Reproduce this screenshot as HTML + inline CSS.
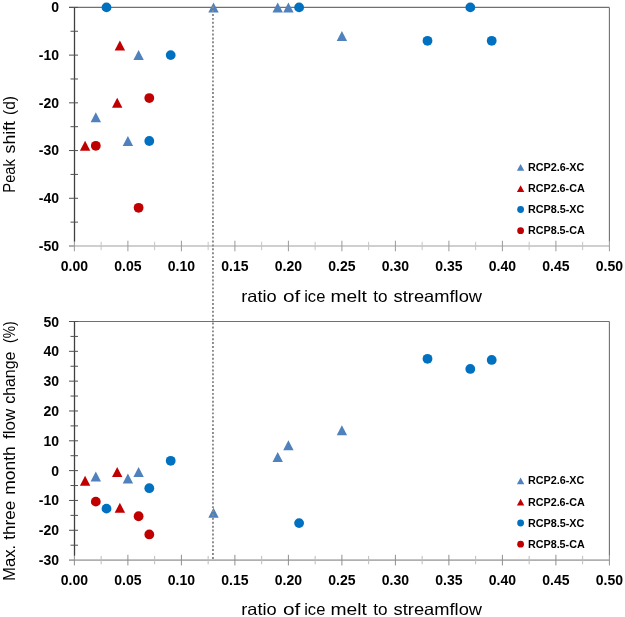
<!DOCTYPE html>
<html><head><meta charset="utf-8"><style>
html,body{margin:0;padding:0;background:#fff;width:625px;height:617px;overflow:hidden}
svg{display:block;will-change:transform}
.tk{font-family:"Liberation Sans",sans-serif;font-weight:bold;font-size:14px;fill:#000}
.tt{font-family:"Liberation Sans",sans-serif;font-size:16.5px;fill:#000}
.lg{font-family:"Liberation Sans",sans-serif;font-weight:bold;font-size:11.8px;fill:#000}
</style></head><body>
<svg width="625" height="617" viewBox="0 0 625 617">
<line x1="69" y1="7.4" x2="609.4" y2="7.4" stroke="#707070" stroke-width="1.1"/>
<line x1="609.4" y1="7.4" x2="609.4" y2="241.5" stroke="#707070" stroke-width="1.1"/>
<line x1="74.5" y1="246" x2="609.4" y2="246" stroke="#cfcfcf" stroke-width="1.8"/>
<line x1="69" y1="246" x2="74.5" y2="246" stroke="#909090" stroke-width="1.4"/>
<line x1="74.40" y1="240.7" x2="74.40" y2="251.3" stroke="#9a9a9a" stroke-width="1"/>
<line x1="101.15" y1="241.8" x2="101.15" y2="250.2" stroke="#c4c4c4" stroke-width="1"/>
<line x1="127.90" y1="240.7" x2="127.90" y2="251.3" stroke="#9a9a9a" stroke-width="1"/>
<line x1="154.65" y1="241.8" x2="154.65" y2="250.2" stroke="#c4c4c4" stroke-width="1"/>
<line x1="181.40" y1="240.7" x2="181.40" y2="251.3" stroke="#9a9a9a" stroke-width="1"/>
<line x1="208.15" y1="241.8" x2="208.15" y2="250.2" stroke="#c4c4c4" stroke-width="1"/>
<line x1="234.90" y1="240.7" x2="234.90" y2="251.3" stroke="#9a9a9a" stroke-width="1"/>
<line x1="261.65" y1="241.8" x2="261.65" y2="250.2" stroke="#c4c4c4" stroke-width="1"/>
<line x1="288.40" y1="240.7" x2="288.40" y2="251.3" stroke="#9a9a9a" stroke-width="1"/>
<line x1="315.15" y1="241.8" x2="315.15" y2="250.2" stroke="#c4c4c4" stroke-width="1"/>
<line x1="341.90" y1="240.7" x2="341.90" y2="251.3" stroke="#9a9a9a" stroke-width="1"/>
<line x1="368.65" y1="241.8" x2="368.65" y2="250.2" stroke="#c4c4c4" stroke-width="1"/>
<line x1="395.40" y1="240.7" x2="395.40" y2="251.3" stroke="#9a9a9a" stroke-width="1"/>
<line x1="422.15" y1="241.8" x2="422.15" y2="250.2" stroke="#c4c4c4" stroke-width="1"/>
<line x1="448.90" y1="240.7" x2="448.90" y2="251.3" stroke="#9a9a9a" stroke-width="1"/>
<line x1="475.65" y1="241.8" x2="475.65" y2="250.2" stroke="#c4c4c4" stroke-width="1"/>
<line x1="502.40" y1="240.7" x2="502.40" y2="251.3" stroke="#9a9a9a" stroke-width="1"/>
<line x1="529.15" y1="241.8" x2="529.15" y2="250.2" stroke="#c4c4c4" stroke-width="1"/>
<line x1="555.90" y1="240.7" x2="555.90" y2="251.3" stroke="#9a9a9a" stroke-width="1"/>
<line x1="582.65" y1="241.8" x2="582.65" y2="250.2" stroke="#c4c4c4" stroke-width="1"/>
<line x1="609.40" y1="240.7" x2="609.40" y2="251.3" stroke="#9a9a9a" stroke-width="1"/>
<line x1="74.5" y1="7.4" x2="74.5" y2="241.5" stroke="#404040" stroke-width="1.3"/>
<line x1="69" y1="7.40" x2="78" y2="7.40" stroke="#505050" stroke-width="1"/>
<line x1="69" y1="55.12" x2="78" y2="55.12" stroke="#505050" stroke-width="1"/>
<line x1="69" y1="102.84" x2="78" y2="102.84" stroke="#505050" stroke-width="1"/>
<line x1="69" y1="150.56" x2="78" y2="150.56" stroke="#505050" stroke-width="1"/>
<line x1="69" y1="198.28" x2="78" y2="198.28" stroke="#505050" stroke-width="1"/>
<line x1="70.5" y1="31.26" x2="78" y2="31.26" stroke="#505050" stroke-width="1"/>
<line x1="70.5" y1="78.98" x2="78" y2="78.98" stroke="#505050" stroke-width="1"/>
<line x1="70.5" y1="126.70" x2="78" y2="126.70" stroke="#505050" stroke-width="1"/>
<line x1="70.5" y1="174.42" x2="78" y2="174.42" stroke="#505050" stroke-width="1"/>
<line x1="70.5" y1="222.14" x2="78" y2="222.14" stroke="#505050" stroke-width="1"/>
<text x="59" y="12.40" text-anchor="end" class="tk">0</text>
<text x="59" y="60.12" text-anchor="end" class="tk">-10</text>
<text x="59" y="107.84" text-anchor="end" class="tk">-20</text>
<text x="59" y="154.96" text-anchor="end" class="tk">-30</text>
<text x="59" y="203.28" text-anchor="end" class="tk">-40</text>
<text x="59" y="251.00" text-anchor="end" class="tk">-50</text>
<text x="74.40" y="271.10" text-anchor="middle" class="tk">0.00</text>
<text x="127.90" y="271.10" text-anchor="middle" class="tk">0.05</text>
<text x="181.40" y="271.10" text-anchor="middle" class="tk">0.10</text>
<text x="234.90" y="271.10" text-anchor="middle" class="tk">0.15</text>
<text x="288.40" y="271.10" text-anchor="middle" class="tk">0.20</text>
<text x="341.90" y="271.10" text-anchor="middle" class="tk">0.25</text>
<text x="395.40" y="271.10" text-anchor="middle" class="tk">0.30</text>
<text x="448.90" y="271.10" text-anchor="middle" class="tk">0.35</text>
<text x="502.40" y="271.10" text-anchor="middle" class="tk">0.40</text>
<text x="555.90" y="271.10" text-anchor="middle" class="tk">0.45</text>
<text x="609.40" y="271.10" text-anchor="middle" class="tk">0.50</text>
<text x="241.29" y="301.80" class="tt" textLength="35.48" lengthAdjust="spacingAndGlyphs">ratio</text>
<text x="282.93" y="301.80" class="tt" textLength="17.34" lengthAdjust="spacingAndGlyphs">of</text>
<text x="304.19" y="301.80" class="tt" textLength="21.14" lengthAdjust="spacingAndGlyphs">ice</text>
<text x="330.52" y="301.80" class="tt" textLength="36.42" lengthAdjust="spacingAndGlyphs">melt</text>
<text x="373.34" y="301.80" class="tt" textLength="14.28" lengthAdjust="spacingAndGlyphs">to</text>
<text x="393.59" y="301.80" class="tt" textLength="88.46" lengthAdjust="spacingAndGlyphs">streamflow</text>
<text transform="translate(15.00 192.71) rotate(-90)" class="tt" textLength="33.69" lengthAdjust="spacingAndGlyphs">Peak</text>
<text transform="translate(15.00 153.39) rotate(-90)" class="tt" textLength="32.32" lengthAdjust="spacingAndGlyphs">shift</text>
<text transform="translate(15.00 114.95) rotate(-90)" class="tt" textLength="18.81" lengthAdjust="spacingAndGlyphs">(d)</text>
<path d="M520.60 163.95L524.30 170.85L516.90 170.85Z" fill="#4F81BD"/>
<text x="527.88" y="170.80" class="lg" textLength="56.52" lengthAdjust="spacingAndGlyphs">RCP2.6-XC</text>
<path d="M520.60 185.15L524.30 192.05L516.90 192.05Z" fill="#C00000"/>
<text x="527.88" y="192.00" class="lg" textLength="56.91" lengthAdjust="spacingAndGlyphs">RCP2.6-CA</text>
<circle cx="520.60" cy="209.50" r="3.4" fill="#0070C0"/>
<text x="527.88" y="213.20" class="lg" textLength="56.52" lengthAdjust="spacingAndGlyphs">RCP8.5-XC</text>
<circle cx="520.60" cy="230.70" r="3.4" fill="#C00000"/>
<text x="527.88" y="234.40" class="lg" textLength="56.91" lengthAdjust="spacingAndGlyphs">RCP8.5-CA</text>
<line x1="69" y1="321.5" x2="609.4" y2="321.5" stroke="#707070" stroke-width="1.1"/>
<line x1="609.4" y1="321.5" x2="609.4" y2="555.6" stroke="#707070" stroke-width="1.1"/>
<line x1="74.5" y1="560.1" x2="609.4" y2="560.1" stroke="#b0b0b0" stroke-width="1.8"/>
<line x1="69" y1="560.1" x2="74.5" y2="560.1" stroke="#909090" stroke-width="1.4"/>
<line x1="74.40" y1="554.8" x2="74.40" y2="565.4" stroke="#8e8e8e" stroke-width="1"/>
<line x1="101.15" y1="555.9" x2="101.15" y2="564.3" stroke="#bdbdbd" stroke-width="1"/>
<line x1="127.90" y1="554.8" x2="127.90" y2="565.4" stroke="#8e8e8e" stroke-width="1"/>
<line x1="154.65" y1="555.9" x2="154.65" y2="564.3" stroke="#bdbdbd" stroke-width="1"/>
<line x1="181.40" y1="554.8" x2="181.40" y2="565.4" stroke="#8e8e8e" stroke-width="1"/>
<line x1="208.15" y1="555.9" x2="208.15" y2="564.3" stroke="#bdbdbd" stroke-width="1"/>
<line x1="234.90" y1="554.8" x2="234.90" y2="565.4" stroke="#8e8e8e" stroke-width="1"/>
<line x1="261.65" y1="555.9" x2="261.65" y2="564.3" stroke="#bdbdbd" stroke-width="1"/>
<line x1="288.40" y1="554.8" x2="288.40" y2="565.4" stroke="#8e8e8e" stroke-width="1"/>
<line x1="315.15" y1="555.9" x2="315.15" y2="564.3" stroke="#bdbdbd" stroke-width="1"/>
<line x1="341.90" y1="554.8" x2="341.90" y2="565.4" stroke="#8e8e8e" stroke-width="1"/>
<line x1="368.65" y1="555.9" x2="368.65" y2="564.3" stroke="#bdbdbd" stroke-width="1"/>
<line x1="395.40" y1="554.8" x2="395.40" y2="565.4" stroke="#8e8e8e" stroke-width="1"/>
<line x1="422.15" y1="555.9" x2="422.15" y2="564.3" stroke="#bdbdbd" stroke-width="1"/>
<line x1="448.90" y1="554.8" x2="448.90" y2="565.4" stroke="#8e8e8e" stroke-width="1"/>
<line x1="475.65" y1="555.9" x2="475.65" y2="564.3" stroke="#bdbdbd" stroke-width="1"/>
<line x1="502.40" y1="554.8" x2="502.40" y2="565.4" stroke="#8e8e8e" stroke-width="1"/>
<line x1="529.15" y1="555.9" x2="529.15" y2="564.3" stroke="#bdbdbd" stroke-width="1"/>
<line x1="555.90" y1="554.8" x2="555.90" y2="565.4" stroke="#8e8e8e" stroke-width="1"/>
<line x1="582.65" y1="555.9" x2="582.65" y2="564.3" stroke="#bdbdbd" stroke-width="1"/>
<line x1="609.40" y1="554.8" x2="609.40" y2="565.4" stroke="#8e8e8e" stroke-width="1"/>
<line x1="74.5" y1="321.5" x2="74.5" y2="555.6" stroke="#404040" stroke-width="1.3"/>
<line x1="69" y1="321.50" x2="78" y2="321.50" stroke="#505050" stroke-width="1"/>
<line x1="69" y1="351.32" x2="78" y2="351.32" stroke="#505050" stroke-width="1"/>
<line x1="69" y1="381.15" x2="78" y2="381.15" stroke="#505050" stroke-width="1"/>
<line x1="69" y1="410.98" x2="78" y2="410.98" stroke="#505050" stroke-width="1"/>
<line x1="69" y1="440.80" x2="78" y2="440.80" stroke="#505050" stroke-width="1"/>
<line x1="69" y1="470.62" x2="78" y2="470.62" stroke="#505050" stroke-width="1"/>
<line x1="69" y1="500.45" x2="78" y2="500.45" stroke="#505050" stroke-width="1"/>
<line x1="69" y1="530.27" x2="78" y2="530.27" stroke="#505050" stroke-width="1"/>
<line x1="70.5" y1="336.41" x2="78" y2="336.41" stroke="#505050" stroke-width="1"/>
<line x1="70.5" y1="366.24" x2="78" y2="366.24" stroke="#505050" stroke-width="1"/>
<line x1="70.5" y1="396.06" x2="78" y2="396.06" stroke="#505050" stroke-width="1"/>
<line x1="70.5" y1="425.89" x2="78" y2="425.89" stroke="#505050" stroke-width="1"/>
<line x1="70.5" y1="455.71" x2="78" y2="455.71" stroke="#505050" stroke-width="1"/>
<line x1="70.5" y1="485.54" x2="78" y2="485.54" stroke="#505050" stroke-width="1"/>
<line x1="70.5" y1="515.36" x2="78" y2="515.36" stroke="#505050" stroke-width="1"/>
<line x1="70.5" y1="545.19" x2="78" y2="545.19" stroke="#505050" stroke-width="1"/>
<text x="59" y="326.50" text-anchor="end" class="tk">50</text>
<text x="59" y="356.32" text-anchor="end" class="tk">40</text>
<text x="59" y="386.15" text-anchor="end" class="tk">30</text>
<text x="59" y="415.98" text-anchor="end" class="tk">20</text>
<text x="59" y="445.80" text-anchor="end" class="tk">10</text>
<text x="59" y="475.62" text-anchor="end" class="tk">0</text>
<text x="59" y="505.45" text-anchor="end" class="tk">-10</text>
<text x="59" y="535.27" text-anchor="end" class="tk">-20</text>
<text x="59" y="565.10" text-anchor="end" class="tk">-30</text>
<text x="74.40" y="585.10" text-anchor="middle" class="tk">0.00</text>
<text x="127.90" y="585.10" text-anchor="middle" class="tk">0.05</text>
<text x="181.40" y="585.10" text-anchor="middle" class="tk">0.10</text>
<text x="234.90" y="585.10" text-anchor="middle" class="tk">0.15</text>
<text x="288.40" y="585.10" text-anchor="middle" class="tk">0.20</text>
<text x="341.90" y="585.10" text-anchor="middle" class="tk">0.25</text>
<text x="395.40" y="585.10" text-anchor="middle" class="tk">0.30</text>
<text x="448.90" y="585.10" text-anchor="middle" class="tk">0.35</text>
<text x="502.40" y="585.10" text-anchor="middle" class="tk">0.40</text>
<text x="555.90" y="585.10" text-anchor="middle" class="tk">0.45</text>
<text x="609.40" y="585.10" text-anchor="middle" class="tk">0.50</text>
<text x="241.29" y="615.10" class="tt" textLength="35.48" lengthAdjust="spacingAndGlyphs">ratio</text>
<text x="282.93" y="615.10" class="tt" textLength="17.34" lengthAdjust="spacingAndGlyphs">of</text>
<text x="304.19" y="615.10" class="tt" textLength="21.14" lengthAdjust="spacingAndGlyphs">ice</text>
<text x="330.52" y="615.10" class="tt" textLength="36.42" lengthAdjust="spacingAndGlyphs">melt</text>
<text x="373.34" y="615.10" class="tt" textLength="14.28" lengthAdjust="spacingAndGlyphs">to</text>
<text x="393.59" y="615.10" class="tt" textLength="88.46" lengthAdjust="spacingAndGlyphs">streamflow</text>
<text transform="translate(15.00 580.97) rotate(-90)" class="tt" textLength="36.20" lengthAdjust="spacingAndGlyphs">Max.</text>
<text transform="translate(15.00 539.76) rotate(-90)" class="tt" textLength="39.02" lengthAdjust="spacingAndGlyphs">three</text>
<text transform="translate(15.00 494.76) rotate(-90)" class="tt" textLength="48.49" lengthAdjust="spacingAndGlyphs">month</text>
<text transform="translate(15.00 439.04) rotate(-90)" class="tt" textLength="30.20" lengthAdjust="spacingAndGlyphs">flow</text>
<text transform="translate(15.00 403.78) rotate(-90)" class="tt" textLength="52.18" lengthAdjust="spacingAndGlyphs">change</text>
<text transform="translate(15.00 342.96) rotate(-90)" class="tt" textLength="21.52" lengthAdjust="spacingAndGlyphs">(%)</text>
<path d="M520.60 477.45L524.30 484.35L516.90 484.35Z" fill="#4F81BD"/>
<text x="527.88" y="484.30" class="lg" textLength="56.52" lengthAdjust="spacingAndGlyphs">RCP2.6-XC</text>
<path d="M520.60 498.65L524.30 505.55L516.90 505.55Z" fill="#C00000"/>
<text x="527.88" y="505.50" class="lg" textLength="56.91" lengthAdjust="spacingAndGlyphs">RCP2.6-CA</text>
<circle cx="520.60" cy="523.00" r="3.4" fill="#0070C0"/>
<text x="527.88" y="526.70" class="lg" textLength="56.52" lengthAdjust="spacingAndGlyphs">RCP8.5-XC</text>
<circle cx="520.60" cy="544.20" r="3.4" fill="#C00000"/>
<text x="527.88" y="547.90" class="lg" textLength="56.91" lengthAdjust="spacingAndGlyphs">RCP8.5-CA</text>
<path d="M95.80 112.16L101.00 122.16L90.60 122.16Z" fill="#4F81BD"/>
<path d="M127.90 136.02L133.10 146.02L122.70 146.02Z" fill="#4F81BD"/>
<path d="M138.60 50.12L143.80 60.12L133.40 60.12Z" fill="#4F81BD"/>
<path d="M213.50 2.40L218.70 12.40L208.30 12.40Z" fill="#4F81BD"/>
<path d="M277.70 2.40L282.90 12.40L272.50 12.40Z" fill="#4F81BD"/>
<path d="M288.40 2.40L293.60 12.40L283.20 12.40Z" fill="#4F81BD"/>
<path d="M341.90 31.03L347.10 41.03L336.70 41.03Z" fill="#4F81BD"/>
<path d="M85.10 140.79L90.30 150.79L79.90 150.79Z" fill="#C00000"/>
<path d="M117.20 97.84L122.40 107.84L112.00 107.84Z" fill="#C00000"/>
<path d="M119.88 40.58L125.08 50.58L114.67 50.58Z" fill="#C00000"/>
<circle cx="106.50" cy="7.40" r="4.9" fill="#0070C0"/>
<circle cx="170.70" cy="55.12" r="4.9" fill="#0070C0"/>
<circle cx="149.30" cy="141.02" r="4.9" fill="#0070C0"/>
<circle cx="299.10" cy="7.40" r="4.9" fill="#0070C0"/>
<circle cx="427.50" cy="40.80" r="4.9" fill="#0070C0"/>
<circle cx="470.30" cy="7.40" r="4.9" fill="#0070C0"/>
<circle cx="491.70" cy="40.80" r="4.9" fill="#0070C0"/>
<circle cx="95.80" cy="145.79" r="4.9" fill="#C00000"/>
<circle cx="149.30" cy="98.07" r="4.9" fill="#C00000"/>
<circle cx="138.60" cy="207.82" r="4.9" fill="#C00000"/>
<path d="M95.80 471.59L101.00 481.59L90.60 481.59Z" fill="#4F81BD"/>
<path d="M127.90 473.38L133.10 483.38L122.70 483.38Z" fill="#4F81BD"/>
<path d="M138.60 467.12L143.80 477.12L133.40 477.12Z" fill="#4F81BD"/>
<path d="M213.50 507.68L218.70 517.68L208.30 517.68Z" fill="#4F81BD"/>
<path d="M277.70 451.91L282.90 461.91L272.50 461.91Z" fill="#4F81BD"/>
<path d="M288.40 440.27L293.60 450.27L283.20 450.27Z" fill="#4F81BD"/>
<path d="M341.90 425.36L347.10 435.36L336.70 435.36Z" fill="#4F81BD"/>
<path d="M85.10 475.77L90.30 485.77L79.90 485.77Z" fill="#C00000"/>
<path d="M117.20 466.97L122.40 476.97L112.00 476.97Z" fill="#C00000"/>
<path d="M119.88 502.76L125.08 512.76L114.67 512.76Z" fill="#C00000"/>
<circle cx="106.50" cy="508.65" r="4.9" fill="#0070C0"/>
<circle cx="149.30" cy="488.22" r="4.9" fill="#0070C0"/>
<circle cx="170.70" cy="460.78" r="4.9" fill="#0070C0"/>
<circle cx="299.10" cy="523.12" r="4.9" fill="#0070C0"/>
<circle cx="427.50" cy="358.78" r="4.9" fill="#0070C0"/>
<circle cx="470.30" cy="368.92" r="4.9" fill="#0070C0"/>
<circle cx="491.70" cy="359.97" r="4.9" fill="#0070C0"/>
<circle cx="95.80" cy="501.64" r="4.9" fill="#C00000"/>
<circle cx="138.60" cy="516.26" r="4.9" fill="#C00000"/>
<circle cx="149.30" cy="534.45" r="4.9" fill="#C00000"/>
<line x1="212.95" y1="6.19" x2="212.95" y2="559" stroke="#8a8a8a" stroke-width="1.9" stroke-dasharray="1.95 1.956"/>
</svg>
</body></html>
